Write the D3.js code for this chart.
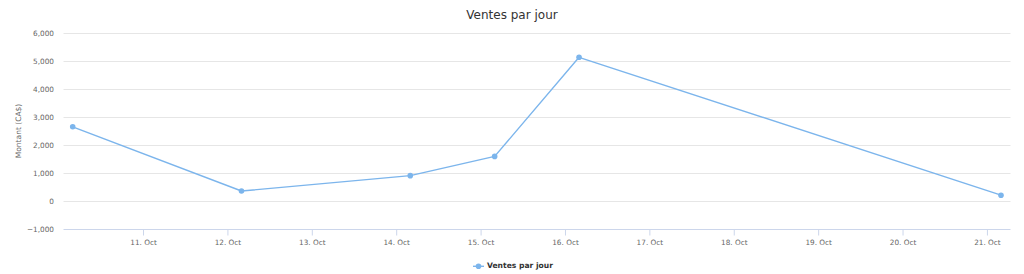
<!DOCTYPE html>
<html><head><meta charset="utf-8">
<script src="https://cdn.jsdelivr.net/npm/d3@7"></script>
<style>
html,body{margin:0;padding:0;background:#fff;}
svg{display:block;font-family:"DejaVu Sans",sans-serif;}
</style></head>
<body><svg id="c" width="1024" height="274"></svg>
<script>
const chartTitle = "Ventes par jour";
const yAxisTitle = "Montant (CA$)";
const seriesName = "Ventes par jour";
const dates = ["2023-10-10T04:00","2023-10-12T04:00","2023-10-14T04:00","2023-10-15T04:00","2023-10-16T04:00","2023-10-21T04:00"];
const values = [2650, 350, 900, 1590, 5140, 200];
const yTicks = [-1000, 0, 1000, 2000, 3000, 4000, 5000, 6000];
const xTickDays = ["2023-10-11","2023-10-12","2023-10-13","2023-10-14","2023-10-15","2023-10-16","2023-10-17","2023-10-18","2023-10-19","2023-10-20","2023-10-21"];

const parse = d3.timeParse("%Y-%m-%dT%H:%M");
const parseDay = d3.timeParse("%Y-%m-%d");
const pts = dates.map((d,i)=>({x:parse(d), y:values[i]}));

const svg = d3.select("#c");
const plotL = 63.5, plotR = 1010.5, plotT = 33.3, plotB = 228.7;

const x = d3.scaleTime().domain([pts[0].x, pts[pts.length-1].x]).range([72.7, 1001]);
const y = d3.scaleLinear().domain([-1000, 6000]).range([plotB, plotT]);

// gridlines
svg.append("g").selectAll("line").data(yTicks.filter(t=>t>-1000)).join("line")
  .attr("x1", plotL).attr("x2", plotR)
  .attr("y1", d=>Math.round(y(d))+0.5).attr("y2", d=>Math.round(y(d))+0.5)
  .attr("stroke", "#e6e6e6").attr("stroke-width", 1);

// y axis labels
const yAxis = d3.axisLeft(y).tickValues(yTicks).tickSize(0).tickPadding(0)
  .tickFormat(d3.format(","));
const gy = svg.append("g").attr("transform", `translate(54,0)`).call(yAxis);
gy.select(".domain").remove();
gy.selectAll("text").attr("fill", "#666666").style("font-size", "7.3px")
  .style("font-family", '"DejaVu Sans",sans-serif');

// x axis
const xAxis = d3.axisBottom(x).tickValues(xTickDays.map(parseDay)).tickSize(6).tickPadding(4)
  .tickFormat(d3.timeFormat("%-d. %b"));
const gx = svg.append("g").attr("transform", `translate(0,${Math.round(plotB)+0.5})`).call(xAxis);
gx.select(".domain").attr("d", `M${plotL},0H${plotR}`).attr("stroke", "#ccd6eb");
gx.selectAll(".tick line").attr("stroke", "#ccd6eb");
gx.selectAll("text").attr("fill", "#666666").style("font-size", "7.3px")
  .style("font-family", '"DejaVu Sans",sans-serif');

// y title
svg.append("text").attr("transform", `translate(19,${(plotT+plotB)/2}) rotate(-90)`)
  .attr("text-anchor", "middle").attr("dominant-baseline", "middle")
  .attr("fill", "#666666").style("font-size", "7.5px").text(yAxisTitle);

// title
svg.append("text").attr("x", 512).attr("y", 19).attr("text-anchor", "middle")
  .attr("fill", "#333333").style("font-size", "12px").text(chartTitle);

// line
const line = d3.line().x(d=>x(d.x)).y(d=>y(d.y));
svg.append("path").datum(pts).attr("d", line).attr("fill", "none")
  .attr("stroke", "#7cb5ec").attr("stroke-width", 1.4).attr("stroke-linejoin", "round");
svg.append("g").selectAll("circle").data(pts).join("circle")
  .attr("cx", d=>x(d.x)).attr("cy", d=>y(d.y)).attr("r", 2.8).attr("fill", "#7cb5ec");

// legend
const lg = svg.append("g").attr("transform", "translate(0,266.3)");
lg.append("line").attr("x1", 473).attr("x2", 484).attr("y1", 0).attr("y2", 0)
  .attr("stroke", "#7cb5ec").attr("stroke-width", 1.4);
lg.append("circle").attr("cx", 478.5).attr("cy", 0).attr("r", 2.8).attr("fill", "#7cb5ec");
lg.append("text").attr("x", 487).attr("y", 0).attr("dominant-baseline", "middle")
  .attr("fill", "#333333").style("font-size", "7.6px").style("font-weight", "bold").text(seriesName);
</script></body></html>
